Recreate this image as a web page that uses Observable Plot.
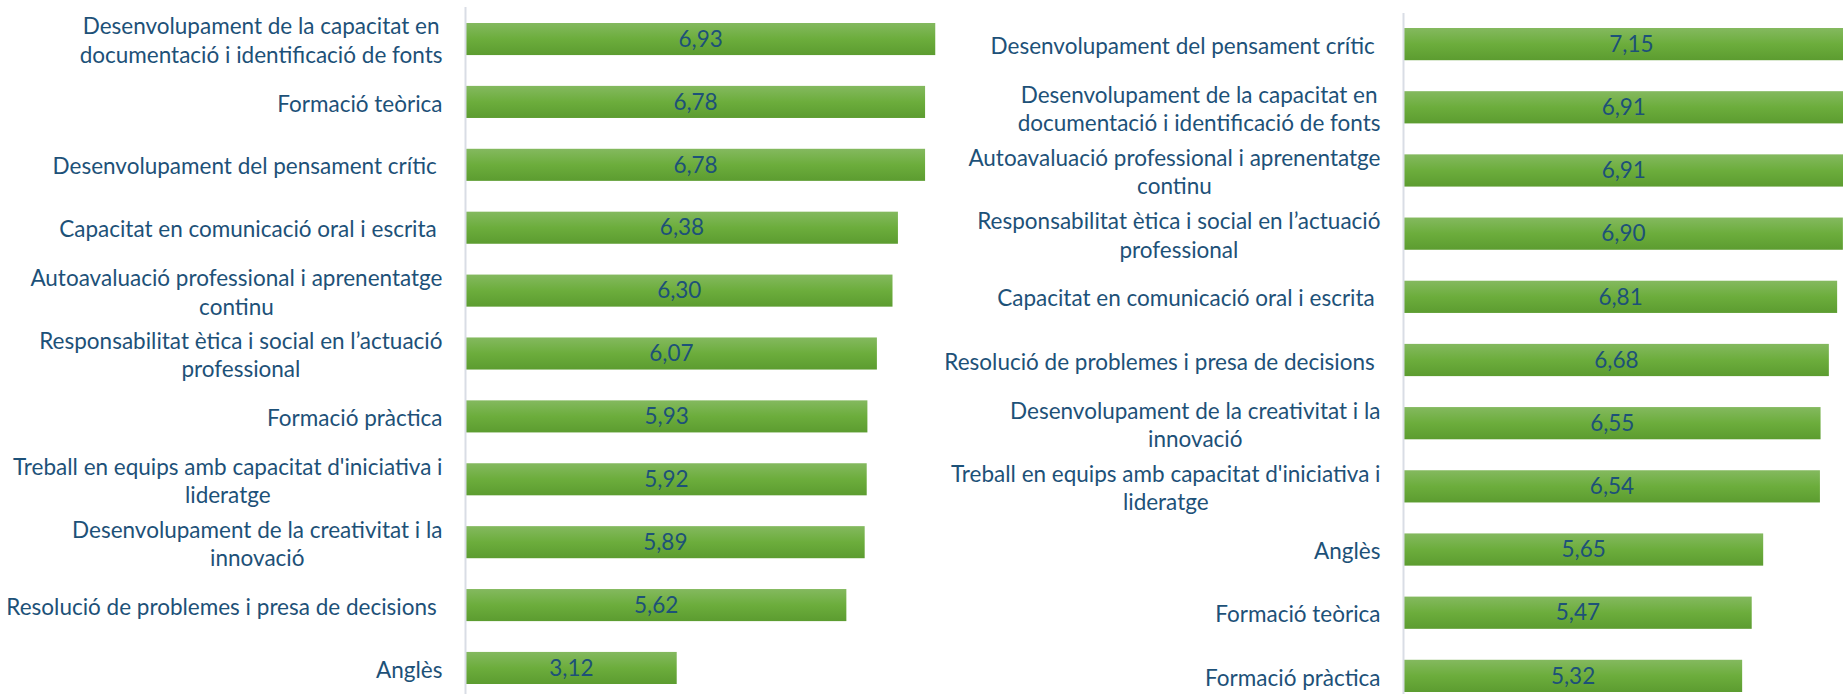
<!DOCTYPE html>
<html>
<head>
<meta charset="utf-8">
<script src="https://cdn.jsdelivr.net/npm/d3@7"></script>
<script src="https://cdn.jsdelivr.net/npm/@observablehq/plot@0.6"></script>
<style>
  html, body { margin: 0; padding: 0; background: #fff; width: 1843px; height: 694px; overflow: hidden; }
  #wrap { position: relative; width: 1843px; height: 694px; overflow: hidden; }
  #left { position: absolute; left: 0; top: 0; width: 940px; }
  #right { position: absolute; left: 940px; top: 0; width: 973px; }
  svg { max-width: none !important; }
</style>
</head>
<body>
<div id="wrap"><div id="left"></div><div id="right"></div></div>
<script>
// Left panel
const leftCategories = [
  "Desenvolupament de la capacitat en\ndocumentació i identificació de fonts",
  "Formació teòrica",
  "Desenvolupament del pensament crític ",
  "Capacitat en comunicació oral i escrita ",
  "Autoavaluació professional i aprenentatge\ncontinu",
  "Responsabilitat ètica i social en l’actuació\nprofessional",
  "Formació pràctica",
  "Treball en equips amb capacitat d'iniciativa i\nlideratge",
  "Desenvolupament de la creativitat i la\ninnovació",
  "Resolució de problemes i presa de decisions ",
  "Anglès"
];
const leftValues = [6.93, 6.78, 6.78, 6.38, 6.30, 6.07, 5.93, 5.92, 5.89, 5.62, 3.12];

// Right panel
const rightCategories = [
  "Desenvolupament del pensament crític ",
  "Desenvolupament de la capacitat en\ndocumentació i identificació de fonts",
  "Autoavaluació professional i aprenentatge\ncontinu",
  "Responsabilitat ètica i social en l’actuació\nprofessional",
  "Capacitat en comunicació oral i escrita ",
  "Resolució de problemes i presa de decisions ",
  "Desenvolupament de la creativitat i la\ninnovació",
  "Treball en equips amb capacitat d'iniciativa i\nlideratge",
  "Anglès",
  "Formació teòrica",
  "Formació pràctica"
];
const rightValues = [7.15, 6.91, 6.91, 6.90, 6.81, 6.68, 6.55, 6.54, 5.65, 5.47, 5.32];

const textColor = "#1d5178";
const fontFamily = "Lato, 'Open Sans', 'Noto Sans', sans-serif";

function fmt(v) { return v.toFixed(2).replace(".", ","); }
function tick(s) { return s.replace(/ $/, "\u00a0"); }

function makeChart(cats, vals, opts) {
  const data = cats.map((c, i) => ({cat: c, val: vals[i]}));
  const chart = Plot.plot({
    width: opts.width,
    height: 694,
    marginLeft: opts.marginLeft,
    marginRight: 0,
    marginTop: opts.marginTop,
    marginBottom: opts.marginBottom,
    style: {fontFamily, fontSize: "22.5px", color: textColor, background: "transparent", overflow: "visible"},
    x: {domain: opts.xDomain, axis: null},
    y: {domain: cats, paddingInner: 0.49, paddingOuter: 0, round: false, label: null},
    marks: [
      Plot.barX(data, {x: "val", y: "cat", fill: "#6aab3b", className: "gbar"}),
      Plot.ruleX([0], {stroke: "#d9dde5", strokeWidth: 2, insetTop: opts.ruleTop, insetBottom: -20}),
      Plot.text(data, {x: d => d.val / 2, y: "cat", text: d => fmt(d.val), fill: textColor, fontSize: 22.5, fontFamily}),
      Plot.axisY({tickSize: 0, tickPadding: 23, tickFormat: tick, fontSize: 22.5, lineHeight: 1.27, fill: textColor, label: null, className: "ylab"})
    ]
  });
  const svg = d3.select(chart);
  const defs = svg.insert("defs", ":first-child");
  const g = defs.append("linearGradient").attr("id", opts.id).attr("x1", 0).attr("y1", 0).attr("x2", 0).attr("y2", 1);
  g.append("stop").attr("offset", "0%").attr("stop-color", "#84b95f");
  g.append("stop").attr("offset", "50%").attr("stop-color", "#6cad3c");
  g.append("stop").attr("offset", "100%").attr("stop-color", "#5c9c30");
  svg.selectAll("g.gbar").attr("fill", `url(#${opts.id})`);
  svg.selectAll("g.gbar rect").attr("fill", `url(#${opts.id})`);
  return chart;
}

// Center the lines of multi-line labels within their right-aligned block
function centerLines(chart) {
  chart.querySelectorAll("text").forEach(t => {
    const spans = t.querySelectorAll("tspan");
    if (spans.length < 2) return;
    const widths = Array.from(spans, s => s.getComputedTextLength());
    const W = Math.max(...widths);
    spans.forEach(s => {
      s.setAttribute("x", -W / 2);
      s.setAttribute("text-anchor", "middle");
    });
  });
}

const leftChart = makeChart(leftCategories, leftValues, {
  id: "gradL", width: 940, marginLeft: 465, marginTop: 23, marginBottom: 10, xDomain: [0, 7], ruleTop: -16
});
document.getElementById("left").appendChild(leftChart);
const rightChart = makeChart(rightCategories, rightValues, {
  id: "gradR", width: 973, marginLeft: 463, marginTop: 28, marginBottom: 2, xDomain: [0, 8], ruleTop: -15
});
document.getElementById("right").appendChild(rightChart);
centerLines(leftChart);
centerLines(rightChart);
</script>
</body>
</html>
